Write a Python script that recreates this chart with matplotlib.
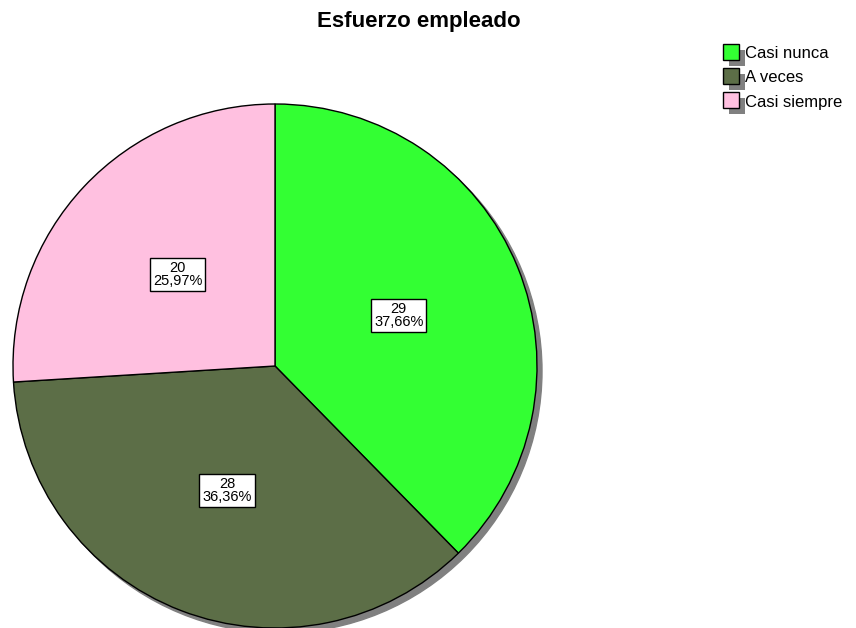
import matplotlib
matplotlib.use("Agg")
import matplotlib.pyplot as plt
from matplotlib.patches import Circle, Rectangle
import numpy as np

plt.rcParams['font.family'] = ['Liberation Sans', 'DejaVu Sans']

title = "Esfuerzo empleado"
categories = ["Casi nunca", "A veces", "Casi siempre"]
counts = [29, 28, 20]
percents = ["37,66%", "36,36%", "25,97%"]
colors = ["#33FF33", "#5C6E47", "#FFC0E0"]

W, H = 856, 628
fig = plt.figure(figsize=(W / 100, H / 100), dpi=100)

# pie axes: center (275,366) px, radius 262 px
R = 262
cx, cy = 275, 366
ax = fig.add_axes([(cx - R) / W, (H - cy - R) / H, 2 * R / W, 2 * R / H])
ax.set_xlim(-1, 1)
ax.set_ylim(-1, 1)
ax.set_aspect('equal')
ax.axis('off')

off = 5 / R
ax.add_patch(Circle((off, -off), 1.0, color="#808080", zorder=0, clip_on=False))

wedges, _ = ax.pie(counts, colors=colors, startangle=90, counterclock=False,
                   radius=1.0, wedgeprops=dict(edgecolor="black", linewidth=1.0),
                   frame=False)
for w in wedges:
    w.set_clip_on(False)
ax.set_xlim(-1, 1)
ax.set_ylim(-1, 1)

total = sum(counts)
ang = 90.0
for c, p in zip(counts, percents):
    span = 360.0 * c / total
    mid = np.deg2rad(ang - span / 2)
    ang -= span
    r = 0.51
    ax.text(r * np.cos(mid), r * np.sin(mid), f"{c}\n{p}", ha="center", va="center",
            fontsize=10.5, linespacing=0.95,
            bbox=dict(boxstyle="square,pad=0.2", facecolor="white", edgecolor="black", linewidth=1.0),
            zorder=5)

fig.text(419 / W, 1 - 22 / H, title, ha="center", va="center", fontsize=16, fontweight="bold")

# legend
lax = fig.add_axes([0, 0, 1, 1])
lax.set_xlim(0, W)
lax.set_ylim(H, 0)
lax.axis('off')
for i, (lab, col) in enumerate(zip(categories, colors)):
    y0 = 44 + i * 24
    lax.add_patch(Rectangle((729, y0 + 6), 16, 16, facecolor="#808080", edgecolor="none", zorder=1))
    lax.add_patch(Rectangle((723, y0), 16, 16, facecolor=col, edgecolor="black", linewidth=1.0, zorder=2))
    lax.text(745, y0 + 10, lab, ha="left", va="center", fontsize=12, zorder=3)

fig.savefig("out.png", dpi=100)
